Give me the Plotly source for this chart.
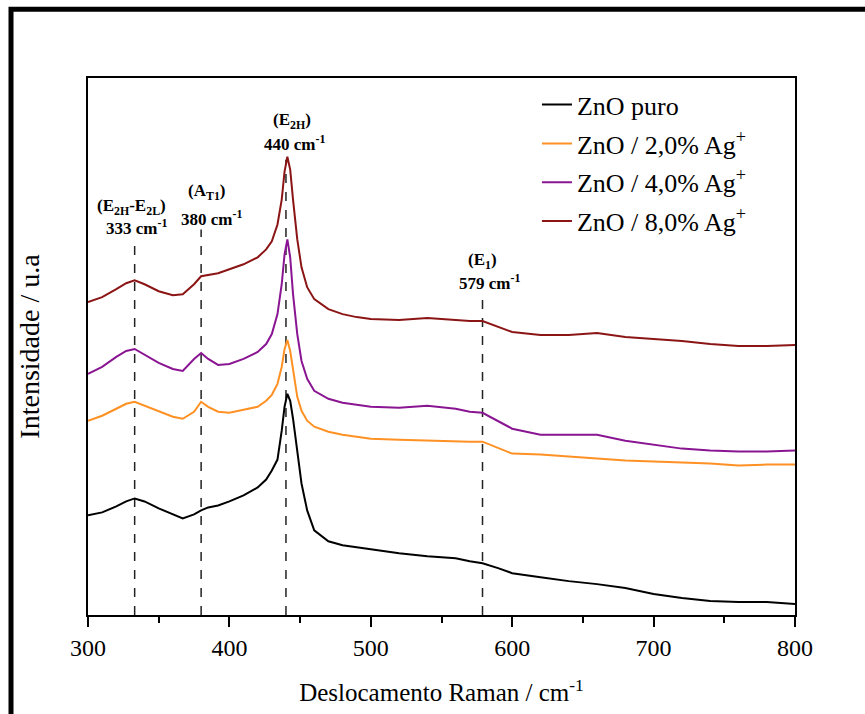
import plotly.graph_objects as go

# Raman shift (cm^-1)
raman_shift = [300, 310, 320, 327, 333, 340, 350, 360, 367, 375,
               380, 385, 392, 400, 410, 420, 426, 430, 434, 437,
               439, 441, 443, 445, 448, 451, 455, 460, 470, 480,
               490, 500, 520, 540, 560, 570, 579, 590, 600, 620,
               640, 660, 680, 700, 720, 740, 760, 780, 800]

# Intensities (arbitrary units, stacked offsets as in the figure)
zno_puro = [100, 103, 109, 114, 117, 114, 107, 101, 97, 101,
            105, 108, 110, 114, 120, 128, 136, 145, 156, 185,
            209, 222, 215, 197, 165, 132, 105, 85, 74, 70,
            68, 66, 62, 59, 57, 54, 52, 47, 42, 38,
            34, 31, 27, 21, 17, 14, 13, 13, 11]
zno_ag2 = [195, 200, 207, 212, 214, 210, 204, 199, 197, 204,
           214, 209, 204, 203, 206, 209, 215, 221, 232, 249,
           267, 276, 265, 245, 219, 205, 195, 189, 184, 181,
           179, 177, 176, 175, 174, 174, 174, 168, 162, 161,
           159, 157, 155, 154, 153, 152, 150, 151, 151]
zno_ag4 = [242, 249, 259, 265, 267, 261, 253, 247, 245, 257,
           263, 257, 251, 252, 257, 264, 272, 282, 302, 332,
           362, 377, 359, 322, 282, 255, 237, 225, 217, 213,
           211, 209, 208, 210, 207, 204, 203, 195, 187, 181,
           181, 181, 175, 171, 167, 165, 164, 164, 165]
zno_ag8 = [314, 319, 327, 333, 336, 332, 325, 321, 322, 332,
           340, 341, 343, 347, 352, 359, 367, 375, 392, 417,
           445, 460, 447, 417, 377, 349, 329, 317, 307, 302,
           299, 297, 296, 298, 296, 295, 295, 289, 284, 281,
           281, 283, 279, 277, 275, 272, 270, 270, 271]

series_names = ["ZnO puro", "ZnO / 2,0% Ag<sup>+</sup>",
                "ZnO / 4,0% Ag<sup>+</sup>", "ZnO / 8,0% Ag<sup>+</sup>"]
series_colors = ["#000000", "#FF9124", "#8A1592", "#8B1515"]

# Marked Raman modes
mode_positions = [333, 380, 440, 579]
mode_line_tops = [377, 387, 457, 324]
mode_labels = ["(E<sub>2H</sub>-E<sub>2L</sub>)", "(A<sub>T1</sub>)",
               "(E<sub>2H</sub>)", "(E<sub>1</sub>)"]
mode_values = ["333 cm<sup>-1</sup>", "380 cm<sup>-1</sup>",
               "440 cm<sup>-1</sup>", "579 cm<sup>-1</sup>"]
label_pos = [(331, 410), (384, 425), (444, 496), (579, 355)]
value_pos = [(334, 389), (387, 398), (446, 474), (584, 334)]

FONT = "Liberation Serif"

fig = go.Figure()
for i, (name, ys, col) in enumerate(zip(series_names, [zno_puro, zno_ag2, zno_ag4, zno_ag8], series_colors)):
    fig.add_trace(go.Scatter(x=raman_shift, y=ys, mode="lines", name=name,
                             legendgroup="g%d" % i,
                             line=dict(color=col, width=2)))

for xp, yt in zip(mode_positions, mode_line_tops):
    fig.add_shape(type="line", xref="x", yref="y", x0=xp, x1=xp, y0=0, y1=yt,
                  line=dict(color="#222222", width=1.5, dash="dash"), layer="below")

for txt, (ax, ay) in zip(mode_labels, label_pos):
    fig.add_annotation(x=ax, y=ay, xref="x", yref="y", text="<b>" + txt + "</b>",
                       showarrow=False, font=dict(family=FONT, size=17, color="black"))
for txt, (ax, ay) in zip(mode_values, value_pos):
    fig.add_annotation(x=ax, y=ay, xref="x", yref="y", text="<b>" + txt + "</b>",
                       showarrow=False, font=dict(family=FONT, size=17, color="black"))

# outer frame (thick black border of the original picture)
fig.add_shape(type="path", xref="paper", yref="paper",
              path="M -0.1089,-0.25 L -0.1089,1.128 L 1.15,1.128",
              line=dict(color="black", width=5))

fig.update_layout(
    width=865, height=714,
    margin=dict(l=88, r=70, t=78, b=97),
    paper_bgcolor="white", plot_bgcolor="white",
    font=dict(family=FONT, size=25, color="black"),
    showlegend=True,
    legend=dict(x=0.635, y=0.994, xanchor="left", yanchor="top",
                bgcolor="rgba(0,0,0,0)", borderwidth=0,
                font=dict(family=FONT, size=26, color="black"),
                tracegroupgap=2),
    xaxis=dict(range=[300, 800], dtick=100, showgrid=False, zeroline=False,
               showline=True, linecolor="black", linewidth=1.5, mirror=True,
               ticks="outside", ticklen=10, tickwidth=1.5, tickcolor="black",
               minor=dict(dtick=50, ticks="outside", ticklen=6, tickwidth=1.5,
                          tickcolor="black", showgrid=False),
               tickfont=dict(family=FONT, size=24, color="black"),
               title=dict(text="Deslocamento Raman / cm<sup>-1</sup>",
                          font=dict(family=FONT, size=25, color="black"), standoff=24)),
    yaxis=dict(range=[0, 539], showgrid=False, zeroline=False,
               showline=True, linecolor="black", linewidth=1.5, mirror=True,
               showticklabels=False, ticks="",
               title=dict(text="Intensidade / u.a",
                          font=dict(family=FONT, size=28, color="black"), standoff=38)),
)

fig.write_html("out.html", config={"displayModeBar": False},
               post_script="document.body.style.margin='0px';")
